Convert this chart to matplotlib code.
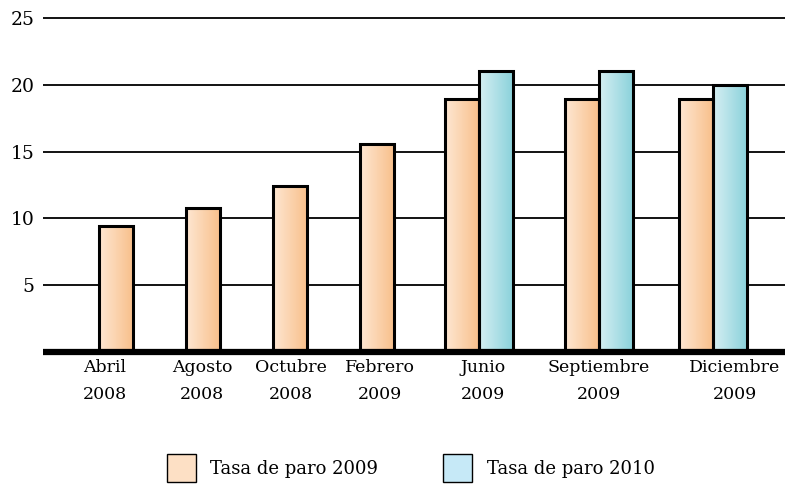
import numpy as np
import matplotlib
matplotlib.use("Agg")
import matplotlib.pyplot as plt
from matplotlib.colors import LinearSegmentedColormap
from matplotlib.patches import Patch

# data
months = ["Abril\n2008", "Agosto\n2008", "Octubre\n2008", "Febrero\n2009",
          "Junio\n2009", "Septiembre\n2009", "Diciembre\n2009"]
paro_2009 = [9.4, 10.8, 12.4, 15.6, 18.9, 18.9, 18.9]
paro_2010 = [None, None, None, None, 21.0, 21.0, 20.0]
legend_labels = ["Tasa de paro 2009", "Tasa de paro 2010"]
y_ticks = [5, 10, 15, 20, 25]

# layout (category units)
group_pos = [0, 1, 2, 3, 4.17, 5.55, 6.86]
label_pos = [-0.13, 0.99, 2.01, 3.03, 4.22, 5.55, 7.11]
bar_w = 0.39

plt.rcParams["font.family"] = ["DejaVu Serif"]

orange_cmap = LinearSegmentedColormap.from_list("o", ["#fee7d2", "#f8c08c"])
blue_cmap = LinearSegmentedColormap.from_list("b", ["#d6eff3", "#8bd2db"])
grad = np.linspace(0, 1, 64).reshape(1, -1)

fig = plt.figure(figsize=(7.93, 4.86), dpi=100)
ax = fig.add_axes([43 / 793, 134 / 486, 742 / 793, 334 / 486])


def gradient_bar(x_left, height, cmap):
    ax.imshow(grad, cmap=cmap, aspect="auto", extent=(x_left, x_left + bar_w, 0, height),
              zorder=2, interpolation="bicubic")
    ax.bar(x_left, height, width=bar_w, align="edge", facecolor="none",
           edgecolor="black", linewidth=2.2, zorder=3)


for i, x in enumerate(group_pos):
    if paro_2010[i] is None:
        gradient_bar(x - bar_w / 2, paro_2009[i], orange_cmap)
    else:
        gradient_bar(x - bar_w, paro_2009[i], orange_cmap)
        gradient_bar(x, paro_2010[i], blue_cmap)

for yv in y_ticks:
    ax.axhline(yv, color="black", linewidth=1.3, zorder=1, clip_on=False,
               solid_capstyle="butt")
ax.axhline(0, color="black", linewidth=4.5, zorder=4, clip_on=False,
           solid_capstyle="butt")

ax.set_xlim(-0.84, 7.69)
ax.set_ylim(0, 25)
ax.set_yticks(y_ticks)
ax.set_yticklabels([str(v) for v in y_ticks], fontsize=13.5)
ax.set_xticks(label_pos)
ax.set_xticklabels(months, fontsize=12.5, linespacing=1.75)
ax.tick_params(length=0, pad=5)
ax.tick_params(axis="y", pad=6)
for s in ax.spines.values():
    s.set_visible(False)

handles = [Patch(facecolor="#fde0c5", edgecolor="black", linewidth=1.0),
           Patch(facecolor="#c6e9f7", edgecolor="black", linewidth=1.0)]
fig.legend(handles, legend_labels, loc="lower center", bbox_to_anchor=(0.518, -0.025),
           ncol=2, frameon=False, fontsize=13, handlelength=1.6, handleheight=2.0,
           columnspacing=3.6, handletextpad=0.8)

fig.savefig("out.png", dpi=100)
